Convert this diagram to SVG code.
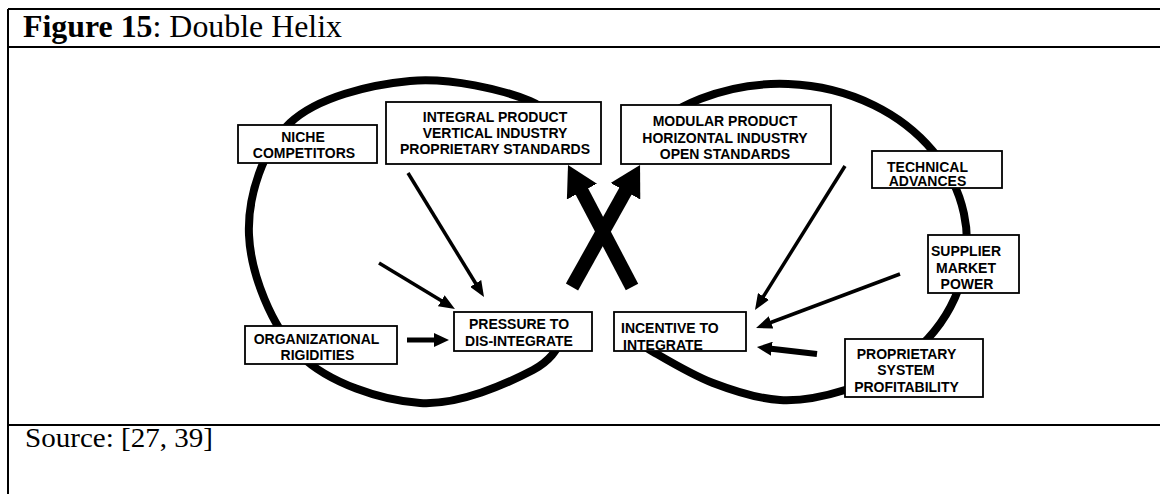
<svg xmlns="http://www.w3.org/2000/svg" width="1160" height="494" viewBox="0 0 1160 494">
  <style>
    .frame { stroke: #000; stroke-width: 2; fill: none; }
    .loop { stroke: #000; stroke-width: 8; fill: none; stroke-linecap: round; }
    .box rect { fill: #fff; stroke: #000; stroke-width: 1.8; }
    .box text { font-family: "Liberation Sans", Arial, sans-serif; font-weight: bold; font-size: 14px; fill: #000; text-anchor: middle; }
    .box text.left { text-anchor: start; }
    .thin { stroke: #000; stroke-width: 3.5; fill: none; marker-end: url(#head-thin); }
    .mid { stroke: #000; fill: none; marker-end: url(#head-mid); }
    .big { stroke: #000; stroke-width: 14; fill: none; marker-end: url(#head-big); }
    .caption { font-family: "Liberation Serif", "Times New Roman", serif; fill: #000; }
  </style>
  <defs>
    <marker id="head-thin" markerUnits="userSpaceOnUse" markerWidth="16" markerHeight="13" refX="6" refY="6.5" orient="auto">
      <path d="M0,0 L16,6.5 L0,13 z" fill="#000"/>
    </marker>
    <marker id="head-mid" markerUnits="userSpaceOnUse" markerWidth="15" markerHeight="14" refX="5" refY="7" orient="auto">
      <path d="M0,0 L15,7 L0,14 z" fill="#000"/>
    </marker>
    <marker id="head-big" markerUnits="userSpaceOnUse" markerWidth="30" markerHeight="34" refX="10" refY="17" orient="auto">
      <path d="M0,0 L30,17 L0,34 z" fill="#000"/>
    </marker>
  </defs>

  <rect width="1160" height="494" fill="#fff"/>

  <!-- table frame -->
  <g id="frame">
    <line class="frame" x1="8" y1="9" x2="1160" y2="9"/>
    <line class="frame" x1="8" y1="9" x2="8" y2="494"/>
    <line class="frame" x1="8" y1="47" x2="1160" y2="47"/>
    <line class="frame" x1="8" y1="425" x2="1160" y2="425"/>
  </g>

  <text class="caption" x="23" y="37" font-size="31" textLength="319" lengthAdjust="spacingAndGlyphs"><tspan font-weight="bold">Figure 15</tspan>: Double Helix</text>
  <text class="caption" x="25" y="447" font-size="28" textLength="188" lengthAdjust="spacingAndGlyphs">Source: [27, 39]</text>

  <!-- the two loops of the helix; both open where the arrows cross -->
  <g id="loops">
    <path class="loop" d="M572,148 C558,132.3 557,112.2 530,101 C503,89.8 450,77.3 410,81 C370,84.7 316.8,97.3 290,123 C263.2,148.7 247.3,196.3 249,235 C250.7,273.7 271.5,327 300,355 C328.5,383 381.2,400.5 420,403 C458.8,405.5 507.3,383.5 533,370 C558.7,356.5 560.3,338 574,322"/>
    <path class="loop" d="M637,140 A187,158 0 1 1 845,390 C824,396.6 802,401.2 780,400 C758,398.8 734.7,391.3 713,383 C691.3,374.7 664,358 650,350 C636,342 632,337 629,335"/>
  </g>

  <g id="niche" class="box">
    <rect x="238" y="125" width="139" height="38"/>
    <text x="303" y="142">NICHE</text>
    <text x="304" y="158">COMPETITORS</text>
  </g>

  <g id="integral" class="box">
    <rect x="386" y="102" width="215" height="62"/>
    <text x="495" y="122">INTEGRAL PRODUCT</text>
    <text x="495" y="138">VERTICAL INDUSTRY</text>
    <text x="495" y="154">PROPRIETARY STANDARDS</text>
  </g>

  <g id="modular" class="box">
    <rect x="621" y="105" width="210" height="59"/>
    <text x="725" y="126">MODULAR PRODUCT</text>
    <text x="725" y="142.5">HORIZONTAL INDUSTRY</text>
    <text x="725" y="158.5">OPEN STANDARDS</text>
  </g>

  <g id="technical" class="box">
    <rect x="872" y="151" width="130" height="37"/>
    <text x="927.5" y="172">TECHNICAL</text>
    <text x="927.5" y="186">ADVANCES</text>
  </g>

  <g id="supplier" class="box">
    <rect x="928" y="235" width="91" height="58"/>
    <text x="966" y="256">SUPPLIER</text>
    <text x="966" y="272.5">MARKET</text>
    <text x="967" y="289">POWER</text>
  </g>

  <g id="proprietary" class="box">
    <rect x="845" y="339" width="138" height="58"/>
    <text x="906.5" y="358.5">PROPRIETARY</text>
    <text x="906" y="375">SYSTEM</text>
    <text x="906.5" y="391.5">PROFITABILITY</text>
  </g>

  <g id="organizational" class="box">
    <rect x="245" y="326" width="152" height="38"/>
    <text x="316.5" y="343.5">ORGANIZATIONAL</text>
    <text x="317.5" y="359.5">RIGIDITIES</text>
  </g>

  <g id="pressure" class="box">
    <rect x="454" y="312" width="138" height="39"/>
    <text x="519" y="329">PRESSURE TO</text>
    <text x="519" y="346">DIS-INTEGRATE</text>
  </g>

  <g id="incentive" class="box">
    <rect x="614" y="312" width="132" height="39"/>
    <text class="left" x="621" y="332.5">INCENTIVE TO</text>
    <text class="left" x="623" y="349.5">INTEGRATE</text>
  </g>

  <g id="connectors">
    <line class="thin" x1="379" y1="263" x2="446.4" y2="303.8"/>
    <line class="thin" x1="408" y1="173" x2="478.8" y2="288.5"/>
    <line class="mid" stroke-width="5" x1="407" y1="340" x2="439" y2="340"/>
    <line class="thin" x1="845" y1="166" x2="760.3" y2="301.5"/>
    <line class="thin" x1="900" y1="274" x2="765.4" y2="324.5"/>
    <line class="mid" stroke-width="6" x1="817" y1="354" x2="766.9" y2="348.2"/>
    <line class="big" x1="632" y1="287" x2="577.3" y2="182.7"/>
    <line class="big" x1="572" y1="287" x2="630.3" y2="182.5"/>
  </g>
</svg>
